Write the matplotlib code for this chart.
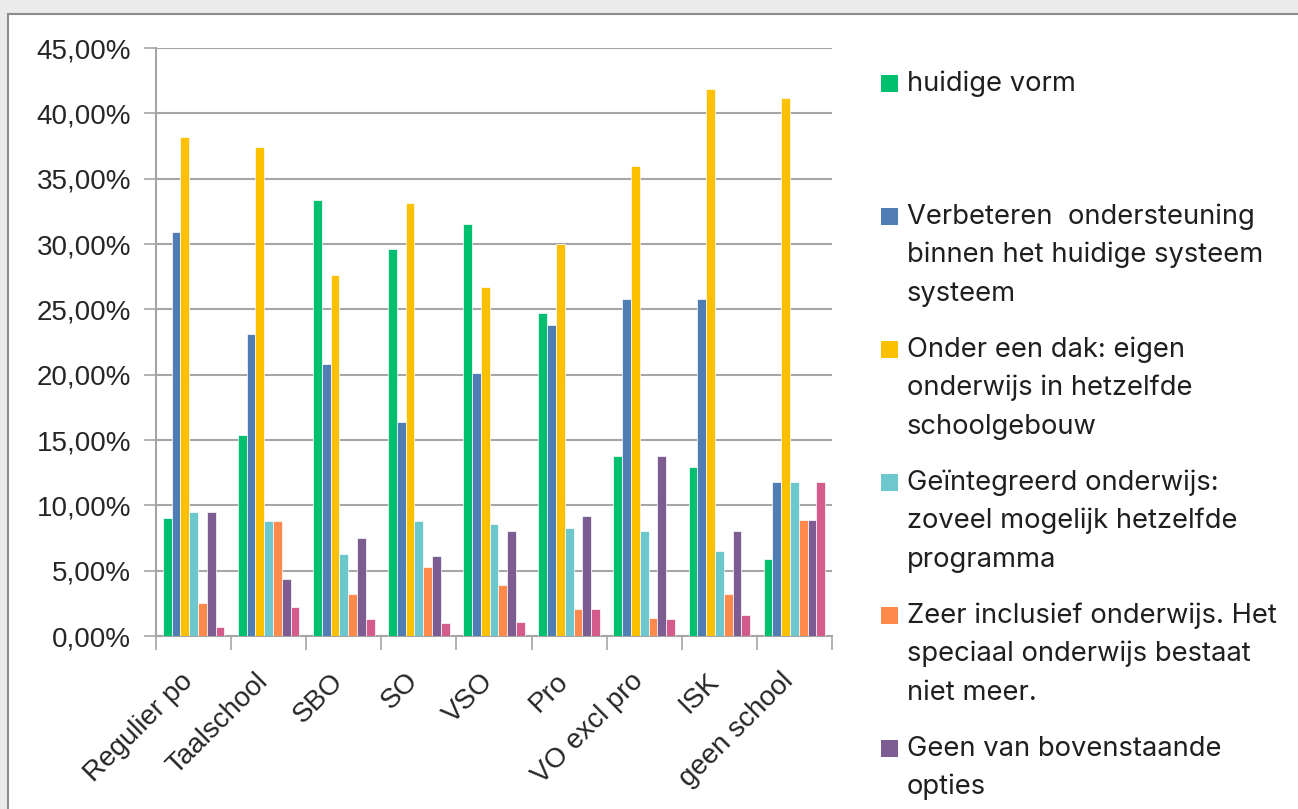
import numpy as np
import matplotlib
matplotlib.use("Agg")
import matplotlib.pyplot as plt
from matplotlib.patches import Rectangle
from matplotlib.ticker import FuncFormatter, FixedLocator

categories = ["Regulier po", "Taalschool", "SBO", "SO", "VSO", "Pro",
              "VO excl pro", "ISK", "geen school"]

series_names = [
    "huidige vorm",
    "Verbeteren  ondersteuning\nbinnen het huidige systeem\nsysteem",
    "Onder een dak: eigen\nonderwijs in hetzelfde\nschoolgebouw",
    "Geïntegreerd onderwijs:\nzoveel mogelijk hetzelfde\nprogramma",
    "Zeer inclusief onderwijs. Het\nspeciaal onderwijs bestaat\nniet meer.",
    "Geen van bovenstaande\nopties",
    "Weet niet",
]

huidige_vorm = [9.0, 15.4, 33.4, 29.6, 31.5, 24.7, 13.8, 12.9, 5.9]
verbeteren = [30.9, 23.1, 20.8, 16.4, 20.1, 23.8, 25.8, 25.8, 11.8]
onder_een_dak = [38.2, 37.4, 27.6, 33.1, 26.7, 30.0, 36.0, 41.9, 41.2]
geintegreerd = [9.5, 8.8, 6.3, 8.8, 8.6, 8.3, 8.0, 6.5, 11.8]
zeer_inclusief = [2.5, 8.8, 3.2, 5.3, 3.9, 2.1, 1.4, 3.2, 8.9]
geen_van = [9.5, 4.4, 7.5, 6.1, 8.0, 9.2, 13.8, 8.0, 8.9]
weet_niet = [0.7, 2.2, 1.3, 1.0, 1.1, 2.1, 1.3, 1.6, 11.8]

all_series = [huidige_vorm, verbeteren, onder_een_dak, geintegreerd,
              zeer_inclusief, geen_van, weet_niet]
colors = ["#00BF6F", "#4F7DB4", "#FBC000", "#6CC8CD", "#FF8A4C",
          "#7C5C91", "#D35C8C"]

W, H = 1298, 809
fig = plt.figure(figsize=(W / 100, H / 100), dpi=100)
fig.patch.set_facecolor("#EBEBEB")
fig.patches.append(Rectangle((8 / W, -0.05), 1.1, (H - 14) / H + 0.05,
                             transform=fig.transFigure, facecolor="white",
                             edgecolor="#8C8C8C", linewidth=1.5, zorder=-5))

ax = fig.add_axes([156 / W, 1 - 636 / H, (832 - 156) / W, (636 - 48) / H])
ax.set_facecolor("none")

x = np.arange(len(categories))
n = len(all_series)
bw = 0.117
for i, (vals, c) in enumerate(zip(all_series, colors)):
    ax.bar(x + (i - (n - 1) / 2) * bw, vals, width=bw, color=c,
           edgecolor="white", linewidth=0.5, zorder=3)

ax.set_xlim(-0.5, len(categories) - 0.5)
ax.set_ylim(0, 45)
ax.set_yticks(np.arange(0, 46, 5))
ax.yaxis.set_major_formatter(FuncFormatter(lambda v, p: f"{v:.2f}%".replace(".", ",")))
ax.grid(axis="y", color="#A6A6A6", linewidth=1.5, zorder=0)
ax.set_axisbelow(True)

ax.xaxis.set_major_locator(FixedLocator(np.arange(-0.5, len(categories), 1)))
ax.xaxis.set_major_formatter(FuncFormatter(lambda v, p: ""))
ax.tick_params(axis="x", length=10, width=1.2, color="#A6A6A6")
ax.tick_params(axis="y", length=9, width=1.2, color="#A6A6A6",
               labelsize=20, pad=9)
for lab in ax.get_yticklabels():
    lab.set_fontfamily("Liberation Sans")
    lab.set_color("#262626")

for s in ["top", "right"]:
    ax.spines[s].set_visible(False)
for s in ["left", "bottom"]:
    ax.spines[s].set_color("#A6A6A6")
    ax.spines[s].set_linewidth(1.5)

for xi, name in zip(x, categories):
    ax.annotate(name, xy=(xi, 0), xycoords=("data", "axes fraction"),
                xytext=(-10, -23), textcoords="offset points",
                rotation=45, ha="right", va="top", rotation_mode="anchor",
                fontsize=20, family="Liberation Sans", color="#262626")

# legend drawn by hand: Excel gives every entry the same slot height
for k, (name, c) in enumerate(zip(series_names, colors)):
    yc = 83.5 + k * 133
    if yc > H:
        continue
    fig.patches.append(Rectangle((881 / W, 1 - (yc + 8.5) / H), 17 / W, 17 / H,
                                 transform=fig.transFigure, facecolor=c,
                                 edgecolor="none", zorder=5))
    for j, line in enumerate(name.split("\n")):
        fig.text(907 / W, 1 - (yc + j * 38.7) / H, line, fontsize=19.7,
                 family="Inter", color="#1F1F1F", va="center", ha="left")

fig.savefig("out.png", dpi=100, facecolor=fig.get_facecolor())
